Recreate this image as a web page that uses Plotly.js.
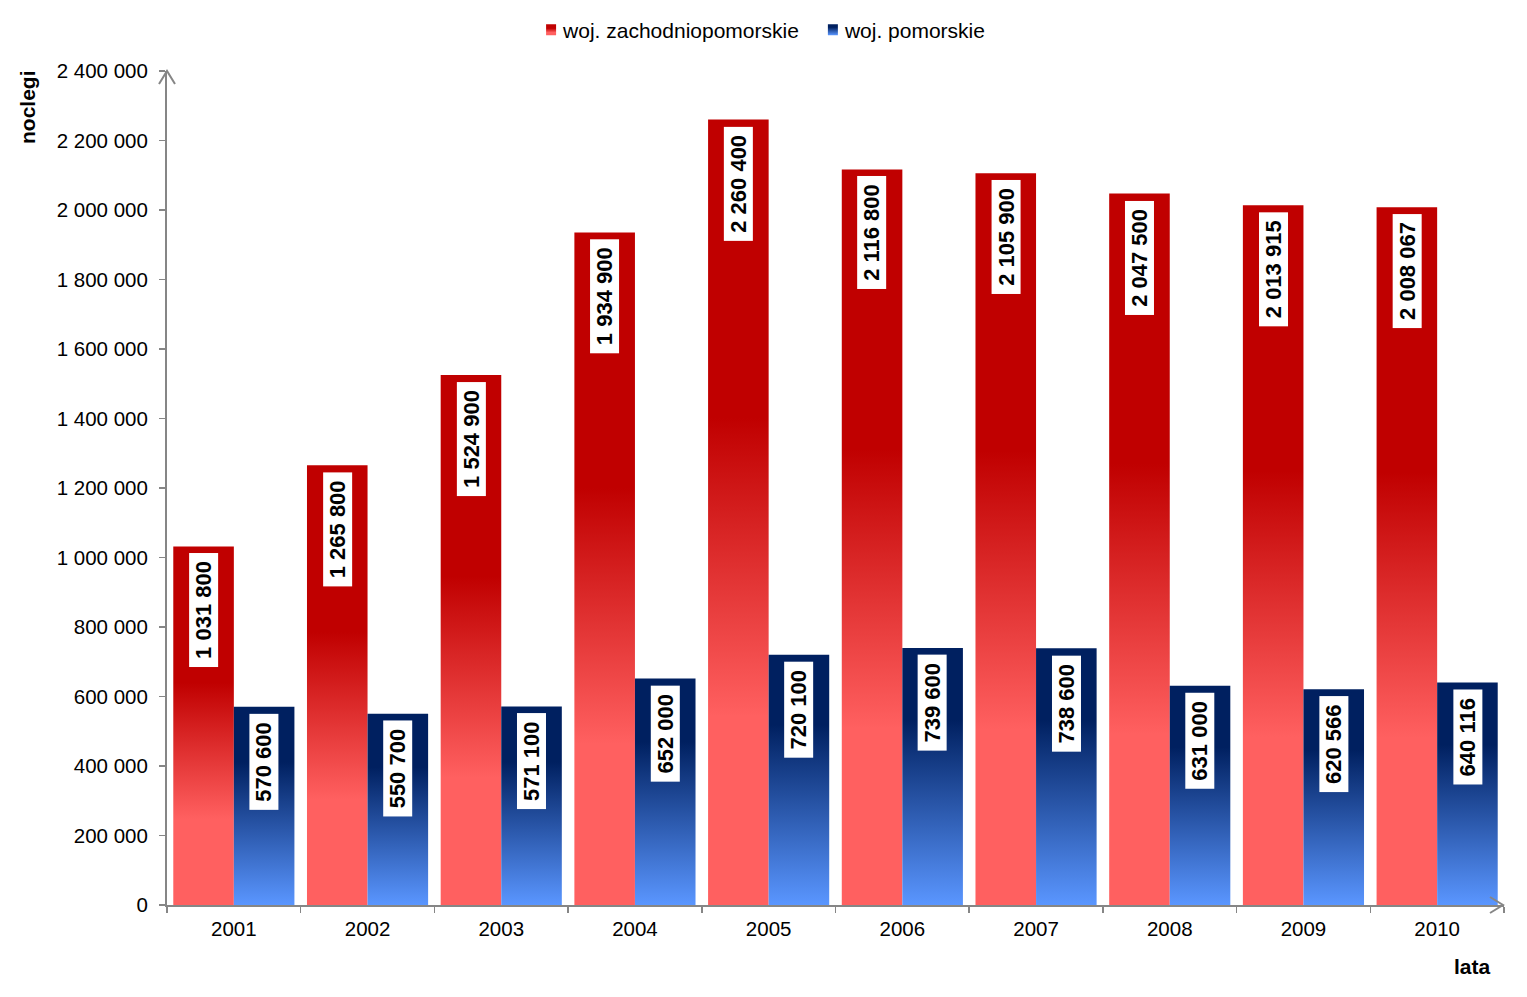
<!DOCTYPE html>
<html>
<head>
<meta charset="utf-8">
<script src="https://cdn.plot.ly/plotly-3.0.1.min.js"></script>
<style>
html,body{margin:0;padding:0;background:#fff;}
#chart{width:1527px;height:997px;}
</style>
</head>
<body>
<div id="chart"></div>
<script>
var years = ['2001','2002','2003','2004','2005','2006','2007','2008','2009','2010'];
var zachodniopomorskie = [1031800, 1265800, 1524900, 1934900, 2260400, 2116800, 2105900, 2047500, 2013915, 2008067];
var pomorskie = [570600, 550700, 571100, 652000, 720100, 739600, 738600, 631000, 620566, 640116];
var seriesNames = ['woj. zachodniopomorskie', 'woj. pomorskie'];
var yTitle = 'noclegi';
var xTitle = 'lata';

var FONT = 'Liberation Sans, Arial, sans-serif';
var AXIS = '#868686';
var BARGAP = 0.094;
var half = (1 - BARGAP) / 4;

function fmt(v) { return String(v).replace(/\B(?=(\d{3})+(?!\d))/g, ' '); }

var traces = [
  {type:'bar', name: seriesNames[0], x: years, y: zachodniopomorskie,
   marker:{color:'#C00000', line:{width:0}}, hoverinfo:'none'},
  {type:'bar', name: seriesNames[1], x: years, y: pomorskie,
   marker:{color:'#002060', line:{width:0}}, hoverinfo:'none'}
];

var annotations = [];
[zachodniopomorskie, pomorskie].forEach(function(arr, s) {
  arr.forEach(function(v, i) {
    annotations.push({
      x: i + (s === 0 ? -half : half), y: v, xref:'x', yref:'y',
      text: '<b>\u00a0' + fmt(v) + '\u00a0</b>', textangle: -90, showarrow: false,
      yanchor: 'top', xanchor: 'center', yshift: -7,
      bgcolor: '#ffffff', borderpad: 2, borderwidth: 0,
      font: {family: FONT, size: 22, color: '#000'}
    });
  });
});
annotations.push({
  xref:'paper', yref:'paper', x: (28-167)/1337, y: (905-107)/834,
  text: '<b>' + yTitle + '</b>', textangle: -90, showarrow: false,
  xanchor:'center', yanchor:'middle', font:{family: FONT, size: 21, color:'#000'}
});
annotations.push({
  xref:'paper', yref:'paper', x: (1472-167)/1337, y: (905-966)/834,
  text: '<b>' + xTitle + '</b>', showarrow: false,
  xanchor:'center', yanchor:'middle', font:{family: FONT, size: 21, color:'#000'}
});

var shapes = [
  {type:'path', xref:'paper', yref:'paper', xsizemode:'pixel', ysizemode:'pixel',
   xanchor: 0, yanchor: 1, path: 'M -8 -13 L 0 0 L 8 -13',
   line:{color: AXIS, width: 2}},
  {type:'path', xref:'paper', yref:'paper', xsizemode:'pixel', ysizemode:'pixel',
   xanchor: 1, yanchor: 0, path: 'M -14 8 L -1 0 L -14 -8',
   line:{color: AXIS, width: 2}}
];

var layout = {
  width: 1527, height: 997,
  margin: {l:167, r:23, t:71, b:92, pad:0},
  paper_bgcolor:'#fff', plot_bgcolor:'#fff',
  font: {family: FONT, size: 20.5, color:'#000'},
  separators: ', ',
  barmode: 'group', bargap: BARGAP, bargroupgap: 0,
  showlegend: true,
  legend: {orientation:'h', xref:'container', yref:'container', x:0.4958, xanchor:'center',
           y: 1 - 30/997, yanchor:'middle', font:{family: FONT, size: 21, color:'#000'},
           traceorder:'normal', itemclick:false, itemdoubleclick:false},
  xaxis: {type:'category', showline:true, linecolor: AXIS, linewidth: 2,
          ticks:'outside', tickson:'boundaries', ticklen: 6, tickcolor: AXIS, tickwidth: 1.5,
          showgrid:false, zeroline:false, ticklabelstandoff: 4,
          tickfont:{family: FONT, size: 20.5, color:'#000'}, fixedrange:true},
  yaxis: {range:[0, 2400000], dtick: 200000, tick0: 0, tickformat:',d',
          showline:true, linecolor: AXIS, linewidth: 2,
          ticks:'outside', ticklen: 6, tickcolor: AXIS, tickwidth: 1.5,
          showgrid:false, zeroline:false, ticklabelstandoff: 7,
          tickfont:{family: FONT, size: 20.5, color:'#000'}, fixedrange:true},
  annotations: annotations,
  shapes: shapes
};

function applyGradients(gd) {
  var svg = gd.querySelector('svg.main-svg');
  var ns = 'http://www.w3.org/2000/svg';
  var defs = svg.querySelector('defs');
  if (!defs) { defs = document.createElementNS(ns, 'defs'); svg.insertBefore(defs, svg.firstChild); }
  function grad(id, stops) {
    if (svg.querySelector('#' + id)) return;
    var g = document.createElementNS(ns, 'linearGradient');
    g.setAttribute('id', id);
    g.setAttribute('x1', '0'); g.setAttribute('y1', '0');
    g.setAttribute('x2', '0'); g.setAttribute('y2', '1');
    stops.forEach(function(s) {
      var st = document.createElementNS(ns, 'stop');
      st.setAttribute('offset', s[0]);
      st.setAttribute('stop-color', s[1]);
      g.appendChild(st);
    });
    defs.appendChild(g);
  }
  grad('gradRed', [[0,'#C00000'],[0.38,'#C00000'],[0.76,'#FF6060'],[1,'#FF6060']]);
  grad('gradBlue', [[0,'#002060'],[0.28,'#002060'],[1,'#5A96FF']]);
  var ids = ['url(#gradRed)', 'url(#gradBlue)'];
  var groups = gd.querySelectorAll('.barlayer .trace');
  groups.forEach(function(g, i) {
    g.querySelectorAll('path').forEach(function(p) { p.style.fill = ids[i]; });
  });
  var leg = gd.querySelectorAll('.legend .traces');
  leg.forEach(function(t, i) {
    var lp = t.querySelector('.legendpoints');
    if (lp) lp.setAttribute('transform', 'translate(8,0)');
    t.querySelectorAll('.legendpoints path').forEach(function(p) {
      p.style.fill = ids[i];
      p.setAttribute('d', 'M5,5.5H-5V-5.5H5Z');
    });
  });
}

var gd = document.getElementById('chart');
Plotly.newPlot(gd, traces, layout, {displayModeBar:false, staticPlot:true}).then(function() {
  applyGradients(gd);
  gd.on && gd.on('plotly_afterplot', function(){ applyGradients(gd); });
});
</script>
</body>
</html>
